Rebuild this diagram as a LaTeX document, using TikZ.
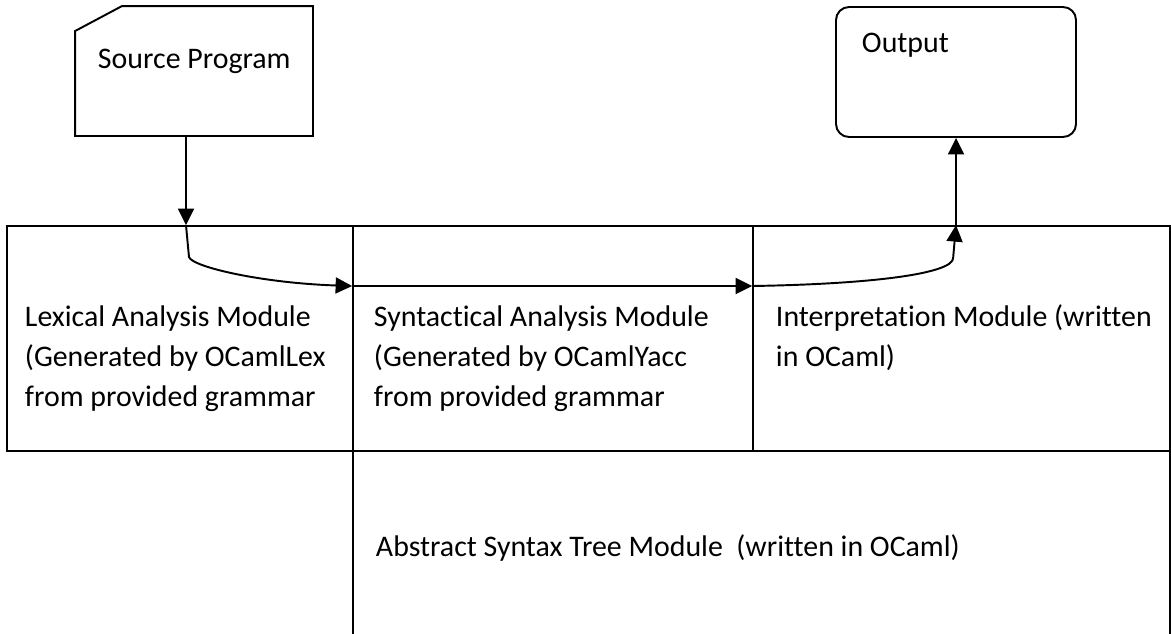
\documentclass[tikz,border=0pt]{standalone}
\usepackage{fontspec}
\setmainfont{Carlito}[Ligatures=NoCommon]
\usetikzlibrary{arrows.meta}

\begin{document}
\begin{tikzpicture}[
  line width=1.1pt,
  >={Triangle[length=0.33cm,width=0.32cm]},
  box/.style={inner sep=0},
  cell/.style={draw,line width=1pt,minimum height=4.5cm,inner sep=0},
  txt/.style={anchor=base west,inner sep=0,font=\fontsize{17}{22.7}\selectfont},
  lines/.style={txt,align=left}
]
\useasboundingbox (0,0) rectangle (23.42,-12.66);
\clip (0,0) rectangle (23.42,-12.66);

% the two boxes on top
\node[box,minimum width=4.72cm,minimum height=2.56cm] (src) at (3.88,-1.42) {};
\draw ([yshift=-0.5cm]src.north west) -- ([xshift=0.94cm]src.north west)
  -- (src.north east) -- (src.south east) -- (src.south west) -- cycle;

\node[draw,rounded corners=0.26cm,minimum width=4.8cm,minimum height=2.6cm] (out) at (19.12,-1.44) {};

% modules
\node[cell,minimum width=6.92cm] (lex) at (3.60,-6.77) {};
\node[cell,minimum width=8cm] (syn) at (11.06,-6.77) {};
\node[cell,minimum width=8.34cm] (interp) at (19.23,-6.77) {};
\node[cell,minimum width=16.34cm,minimum height=5cm] (ast) at (15.23,-11.52) {};

% texts (multi-line ones sit on their last line)
\node[txt] (srctxt) at (1.94,-1.36) {Source Program};
\node[txt] (outtxt) at (17.22,-1.04) {Output};
\node[lines] (lextxt) at (0.48,-8.12) {Lexical Analysis Module\\(Generated by OCamlLex\\from provided grammar};
\node[lines] (syntxt) at (7.46,-8.12) {Syntactical Analysis Module\\(Generated by OCamlYacc\\from provided grammar};
\node[lines] (interptxt) at (15.50,-7.32) {Interpretation Module (written\\in OCaml)};
\node[txt] (asttxt) at (7.50,-11.12) {Abstract Syntax Tree Module\ \ (written in OCaml)};

\coordinate (inlex) at ([xshift=0.12cm]lex.north);
\coordinate (insyn) at ([yshift=1.05cm]syn.west);
\coordinate (ininterp) at ([yshift=1.05cm]interp.west);
\coordinate (outinterp) at (out.south |- interp.north);

\draw[->] (src.south -| inlex) -- (inlex);
\draw[->] (inlex) -- ++(0.06,-0.64) .. controls +(0.08,-0.2) and +(-1.8,0.06) .. (insyn);
\draw[->] (insyn) -- (ininterp);
\draw[->] (ininterp) .. controls +(2.5,0.04) and +(0,-0.3) .. ++(4.02,0.56) -- (outinterp);
\draw[->] (outinterp) -- (out.south);

\end{tikzpicture}
\end{document}
